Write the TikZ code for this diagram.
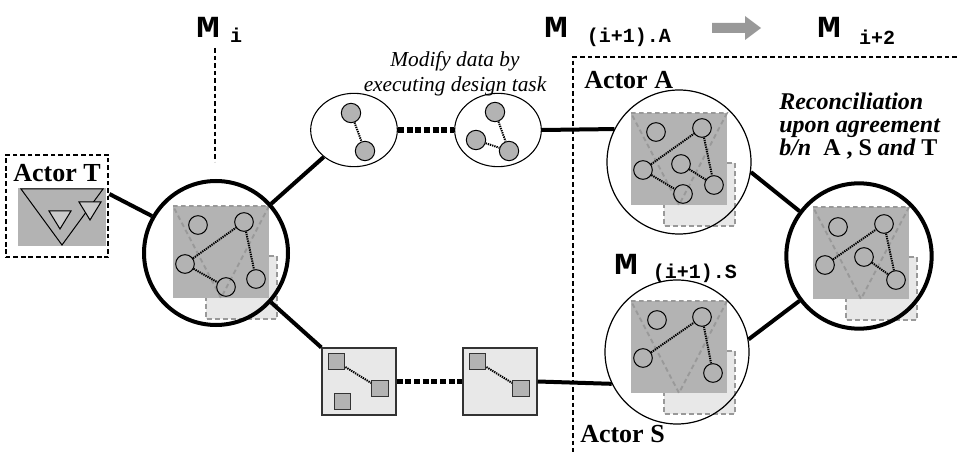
\documentclass[tikz,border=0pt]{standalone}
\usepackage{fontspec}
\setmainfont{Liberation Serif}
\setmonofont{Liberation Mono}
\usetikzlibrary{shapes.geometric,calc}
\definecolor{gfill}{HTML}{B3B3B3}
\definecolor{lfill}{HTML}{E8E8E8}
\definecolor{dgray}{HTML}{999999}
\definecolor{bordergray}{HTML}{333333}
\tikzset{
  thickln/.style={line width=3pt},
  bigcirc/.style={circle, draw, minimum size=108pt, inner sep=0pt},
  thincirc/.style={circle, draw, line width=0.9pt, minimum size=108pt, inner sep=0pt},
  dotconn/.style={line width=4pt, dash pattern=on 4.5pt off 2pt},
  smalldot/.style={line width=1.5pt, dash pattern=on 1pt off 0.7pt},
  hole/.style={circle, draw, line width=0.75pt, minimum size=14pt, inner sep=0pt},
  gnode/.style={circle, draw, fill=gfill, line width=0.75pt, minimum size=14.5pt, inner sep=0pt},
  gsq/.style={rectangle, draw=bordergray, fill=gfill, line width=0.9pt, minimum size=12.5pt, inner sep=0pt},
  bigsq/.style={rectangle, draw=bordergray, fill=lfill, line width=1.1pt, minimum width=55.5pt, minimum height=50pt, inner sep=0pt},
  ell/.style={ellipse, draw, line width=0.8pt, minimum width=65pt, minimum height=55pt, inner sep=0pt},
  gdash/.style={draw=dgray, line width=1.4pt, dash pattern=on 3.5pt off 2.5pt},
  blkdash/.style={line width=1.6pt, dash pattern=on 3.5pt off 2.2pt},
  mlabel/.style={font=\fontsize{23pt}{23pt}\selectfont\ttfamily\bfseries, inner sep=0pt, xscale=1.3},
  msub/.style={font=\fontsize{15pt}{15pt}\selectfont\ttfamily\bfseries, inner sep=0pt},
  actor/.style={font=\fontsize{19.5pt}{19.5pt}\selectfont\bfseries, inner sep=0pt},
  recon/.style={font=\fontsize{18pt}{18pt}\selectfont\bfseries\itshape, inner sep=0pt, anchor=base west},
}
\newcommand{\modelbg}{%
  \fill[lfill] (33,50) rectangle (104,113);
  \draw[gdash] (33,50) rectangle (104,113);
  \fill[gfill] (0,0) rectangle (96,92);
  \draw[gdash] (0,0) -- (96,0) -- (48,92) -- cycle;
}
\begin{document}
\begin{tikzpicture}[x=0.75pt,y=-0.75pt]
\useasboundingbox (0,0) rectangle (957,452);

% ---------- labels on top ----------
\node[mlabel] (MiM) at (208,27) {M};
\node[msub] (Mis) at (236,35) {i};
\node[mlabel] (MaM) at (556,27) {M};
\node[msub] (Mas) at (629,37) {(i+1).A};
\node[mlabel] (MnM) at (829,27) {M};
\node[msub] (Mns) at (877,37) {i+2};
\node[mlabel] (MsM) at (626,264) {M};
\node[msub] (Mss) at (695,273) {(i+1).S};

% gray arrow
\fill[dgray] (712,23) -- (745,23) -- (745,16) -- (761,28) -- (745,40) -- (745,33) -- (712,33) -- cycle;

\node[font=\fontsize{16pt}{19pt}\selectfont\itshape, align=center, inner sep=0pt] (modtxt) at (455,74) {Modify data by\\executing design task};

\node[recon] (rc1) at (779,110) {Reconciliation};
\node[recon] (rc2) at (779,133) {upon agreement};
\node[recon] (rc3) at (779,156) {b/n\ \ \upshape A , S \itshape and \upshape T};

% ---------- dashed region lines ----------
\coordinate (vtop) at (215,48);
\coordinate (vbot) at (215,162);
\draw[blkdash] (vtop) -- (vbot);
\coordinate (corner) at (573,57);
\coordinate (cright) at (957,57);
\coordinate (cbottom) at (573,452);
\draw[blkdash] (cright) -- (corner) -- (cbottom);

\node[actor, anchor=west] (actA) at (584,80) {Actor A};
\node[actor, anchor=west] (actS) at (580,434) {Actor S};

% ---------- Actor T ----------
\node[draw, blkdash, minimum width=77pt, minimum height=77pt, inner sep=0pt] (Tbox) at (57,206) {};
\node[actor] (actT) at (57,173) {Actor T};
\fill[gfill] (18,188) rectangle (106,246);
\draw[line width=0.75pt] (21,189) -- (103,189) -- (62,245) -- cycle;
\draw[line width=0.75pt, fill=gfill!70] (49,211) -- (71,211) -- (60,229) -- cycle;
\draw[line width=0.75pt, fill=gfill!70] (79,202) -- (101,202) -- (90,220) -- cycle;

% ---------- M_i circle ----------
\begin{scope}[shift={(173,206)}, name prefix=mi-]
  \modelbg
  \node[hole] (c1) at (25,19) {};
  \node[hole] (c2) at (71,16) {};
  \node[hole] (c3) at (12,58) {};
  \node[hole] (c4) at (53,81) {};
  \node[hole] (c5) at (83,73) {};
  \draw[smalldot] (c3) -- (c2);
  \draw[smalldot] (c3) -- (c4);
  \draw[smalldot] (c2) -- (c5);
\end{scope}
\node[bigcirc, line width=3pt] (Mi) at (216,253) {};

% ---------- A circle ----------
\begin{scope}[shift={(631,113)}, name prefix=a-]
  \modelbg
  \node[hole] (c1) at (25,19) {};
  \node[hole] (c2) at (71,15) {};
  \node[hole] (c3) at (12,57) {};
  \node[hole] (c4) at (52,81) {};
  \node[hole] (c5) at (83,72) {};
  \node[hole] (c6) at (50,51) {};
  \draw[smalldot] (c3) -- (c2);
  \draw[smalldot] (c3) -- (c4);
  \draw[smalldot] (c2) -- (c5);
  \draw[smalldot] (c6) -- (c5);
\end{scope}
\node[thincirc] (A) at (679,162) {};

% ---------- S circle ----------
\begin{scope}[shift={(631,301)}, name prefix=s-]
  \modelbg
  \node[hole] (c1) at (26,19) {};
  \node[hole] (c2) at (71,16) {};
  \node[hole] (c3) at (12,57) {};
  \node[hole] (c5) at (82,72) {};
  \draw[smalldot] (c3) -- (c2);
  \draw[smalldot] (c2) -- (c5);
\end{scope}
\node[thincirc] (S) at (677,352) {};

% ---------- reconciled circle ----------
\begin{scope}[shift={(813,207)}, name prefix=r-]
  \modelbg
  \node[hole] (c1) at (25,20) {};
  \node[hole] (c2) at (71,17) {};
  \node[hole] (c3) at (12,58) {};
  \node[hole] (c6) at (51,50) {};
  \node[hole] (c5) at (83,73) {};
  \draw[smalldot] (c3) -- (c2);
  \draw[smalldot] (c2) -- (c5);
  \draw[smalldot] (c6) -- (c5);
\end{scope}
\node[bigcirc, line width=3pt, minimum size=109pt] (R) at (859,256) {};

% ---------- top ellipses ----------
\node[ell] (E1) at (354,130) {};
\node[ell] (E2) at (498,130) {};
\node[gnode] (e1a) at (351,113) {};
\node[gnode] (e1b) at (365,151) {};
\draw[smalldot] (e1a) -- (e1b);
\node[gnode] (e2a) at (495,112) {};
\node[gnode] (e2b) at (476,140) {};
\node[gnode] (e2c) at (509,151) {};
\draw[smalldot] (e2a) -- (e2c);
\draw[smalldot] (e2b) -- (e2c);

% ---------- bottom squares ----------
\node[bigsq] (Q1) at (359,381.5) {};
\node[bigsq] (Q2) at (500,381.5) {};
\node[gsq] (q1a) at (336.5,361.5) {};
\node[gsq] (q1b) at (380,388.5) {};
\node[gsq] (q1c) at (342.5,401.5) {};
\draw[smalldot] (q1a) -- (q1b);
\node[gsq] (q2a) at (477.5,361.5) {};
\node[gsq] (q2b) at (521,388.5) {};
\draw[smalldot] (q2a) -- (q2b);

% ---------- connectors ----------
\coordinate (Tout) at ($(Tbox.east)+(0,-12)$);
\draw[thickln] (Tout) -- (Mi.150);
\draw[thickln] (Mi) -- (E1);
\draw[dotconn] (E1.east) -- (E2.west);
\draw[thickln] (E2.east) -- (A.153);
\draw[thickln] (Mi) -- (Q1.north west);
\draw[dotconn] (Q1.east) -- (Q2.west);
\draw[thickln] (Q2.east) -- (S.206);
\draw[thickln] (A.-8) -- (R.143);
\draw[thickln] (S.10) -- (R.-143);
\end{tikzpicture}
\end{document}
